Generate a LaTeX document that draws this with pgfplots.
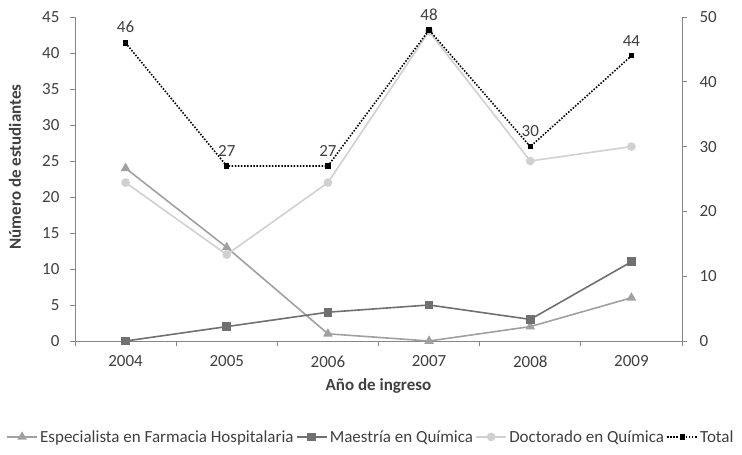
\documentclass[border=0pt]{standalone}
\usepackage{pgfplots}
\pgfplotsset{compat=1.18}
\usepackage{fontspec}
\setmainfont{Carlito}
\definecolor{txt}{HTML}{404040}
\definecolor{axisgray}{HTML}{868686}
\definecolor{espc}{HTML}{A0A0A0}
\definecolor{maes}{HTML}{707070}
\definecolor{doct}{HTML}{D0D0D0}

\pgfplotsset{
  base/.style={
    scale only axis, width=607pt, height=324pt,
    at={(0,0)}, anchor=south west,
    xmin=-0.5, xmax=5.5,
    axis line style={axisgray, line width=0.8pt},
    tick style={axisgray, line width=0.8pt},
    tick align=outside, major tick length=5pt,
    ticklabel style={font=\fontsize{17}{19}\selectfont, text=txt},
    /pgf/number format/assume math mode=true,
    clip=false,
  },
  totalline/.style={black, line width=1.6pt, dash pattern=on 1.5pt off 1.6pt,
    mark=square*, mark size=1.8pt, mark options={solid}},
}

\begin{document}
\begin{tikzpicture}[x=1pt,y=1pt]
\useasboundingbox (-75,-114) rectangle (667,341);

\begin{axis}[base,
  axis x line*=bottom, axis y line*=left,
  ymin=0, ymax=45, ytick={0,5,...,45},
  yticklabel style={xshift=-7pt},
  xtick={-0.5,0.5,1.5,2.5,3.5,4.5,5.5},
  x tick label as interval,
  xticklabels={2004,2005,2006,2007,2008,2009},
  xticklabel style={yshift=-6pt},
  xlabel={Año de ingreso},
  ylabel={Número de estudiantes},
  label style={font=\bfseries\fontsize{17}{19}\selectfont, text=txt},
  xlabel style={at={(axis description cs:0.5,-0.139)}, anchor=center},
  ylabel style={at={(axis description cs:-0.099,0.537)}, anchor=center},
  legend columns=4,
  legend style={at={(axis description cs:0.4877,-0.296)}, anchor=center,
    draw=none, fill=none, font=\fontsize{17}{19}\selectfont, text=txt,
    nodes={inner xsep=2.3pt, inner ysep=2pt},
    /tikz/every even column/.append style={column sep=0pt}},
  legend cell align=left,
  legend image code/.code={
    \draw[mark repeat=2, mark phase=2] plot coordinates {(0pt,0pt) (15pt,0pt) (30pt,0pt)};},
]
\addplot[espc, line width=1.6pt, mark=triangle*, mark size=4pt]
  coordinates {(0,24) (1,13) (2,1) (3,0) (4,2) (5,6)};
\addlegendentry{Especialista en Farmacia Hospitalaria}
\addplot[maes, line width=1.6pt, mark=square*, mark size=3.6pt]
  coordinates {(0,0) (1,2) (2,4) (3,5) (4,3) (5,11)};
\addlegendentry{Maestría en Química}
\addplot[doct, line width=1.6pt, mark=*, mark size=3.5pt]
  coordinates {(0,22) (1,12) (2,22) (3,43) (4,25) (5,27)};
\addlegendentry{Doctorado en Química}
\addlegendimage{totalline}
\addlegendentry{Total}
\end{axis}

\begin{axis}[base,
  axis y line*=right, axis x line=none,
  ymin=0, ymax=50, ytick={0,10,...,50},
  yticklabel style={xshift=9pt},
]
\addplot[totalline,
  nodes near coords,
  nodes near coords style={font=\fontsize{17}{19}\selectfont, text=txt,
    anchor=south, inner sep=1pt, yshift=8pt}]
  coordinates {(0,46) (1,27) (2,27) (3,48) (4,30) (5,44)};
\end{axis}
\end{tikzpicture}
\end{document}
